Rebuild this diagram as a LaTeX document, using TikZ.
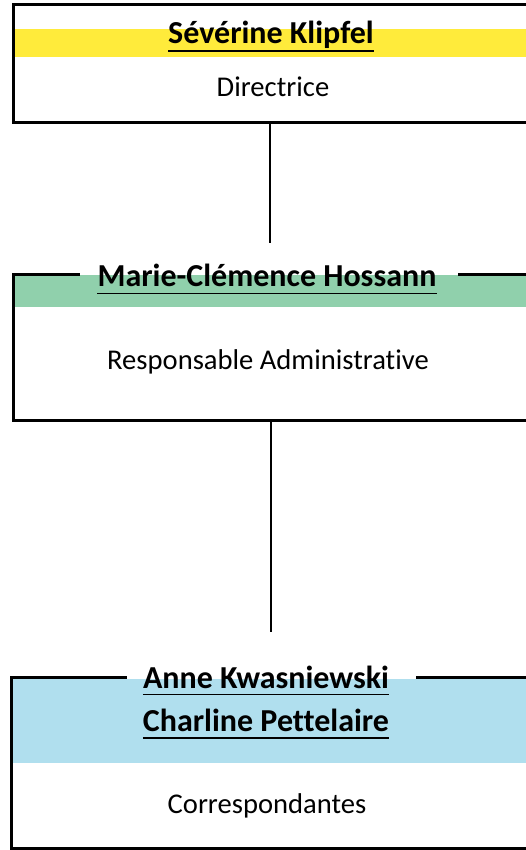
\documentclass[tikz,border=0pt]{standalone}
\usepackage{fontspec}
\setmainfont{Carlito}[RawFeature=-liga, RawFeature=-clig, RawFeature=-calt]
\definecolor{bandyellow}{RGB}{255,235,59}
\definecolor{bandgreen}{RGB}{144,208,172}
\definecolor{bandblue}{RGB}{176,223,238}
\tikzset{
  frame/.style={line width=3pt, draw=black, line cap=rect},
  link/.style={line width=2.4pt, draw=black},
  uline/.style={line width=1.9pt, draw=black},
  person/.style={anchor=base, inner sep=0pt, font=\fontsize{32}{38}\selectfont\bfseries},
  role/.style={anchor=base, inner sep=0pt, font=\fontsize{28.6}{34}\selectfont},
}
\begin{document}
\begin{tikzpicture}[x=1pt, y=-1pt]
\useasboundingbox (0,0) rectangle (526,850);
\fill[white] (0,0) rectangle (526,850);

% ---- box 1
\fill[bandyellow] (15,29) rectangle (530,57);
\draw[frame] (530,4.5) -- (13.5,4.5) -- (13.5,122.5) -- (530,122.5);
\node[person] (n1) at (271,44) {Sévérine Klipfel};
\draw[uline] ([yshift=-7pt]n1.base west) -- ([yshift=-7pt]n1.base east);
\node[role] (r1) at (273,97) {Directrice};
\coordinate (box1bottom) at (270,124);
\coordinate (link1end) at (270,243);

% ---- box 2
\fill[bandgreen] (15,275) rectangle (530,307);
\draw[frame] (78,274) -- (13.5,274) -- (13.5,420) -- (530,420);
\draw[frame] (459,274) -- (530,274);
\node[person] (n2) at (267,286.5) {Marie-Clémence Hossann};
\draw[uline] ([yshift=-7pt]n2.base west) -- ([yshift=-7pt]n2.base east);
\node[role] (r2) at (268,369) {Responsable Administrative};
\coordinate (box2bottom) at (271,421.5);
\coordinate (link2end) at (271,632);

% ---- box 3
\fill[bandblue] (13,679) rectangle (530,763);
\draw[frame] (125,677.5) -- (11.3,677.5) -- (11.3,848.5) -- (530,848.5);
\draw[frame] (417,677.5) -- (530,677.5);
\node[person] (n3a) at (266,688) {Anne Kwasniewski};
\draw[uline] ([yshift=-6.5pt]n3a.base west) -- ([yshift=-6.5pt]n3a.base east);
\node[person] (n3b) at (266,731) {Charline Pettelaire};
\draw[uline] ([yshift=-7pt]n3b.base west) -- ([yshift=-7pt]n3b.base east);
\node[role] (r3) at (267,813.5) {Correspondantes};

% ---- connectors
\draw[link] (box1bottom) -- (link1end);
\draw[link] (box2bottom) -- (link2end);
\end{tikzpicture}
\end{document}
